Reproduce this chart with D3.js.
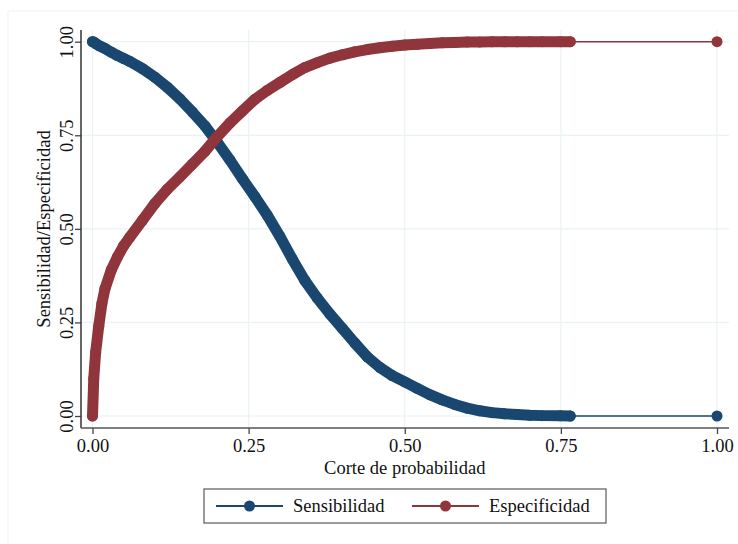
<!DOCTYPE html>
<html>
<head>
<meta charset="utf-8">
<script src="https://cdn.jsdelivr.net/npm/d3@7"></script>
<style>
  body { margin: 0; background: #fff; }
  svg text { font-family: "Liberation Serif", "Times New Roman", serif; fill: #111; }
</style>
</head>
<body>
<svg id="chart" width="738" height="544"></svg>
<script>
// ---- Data ----
const cutoffs = [0, 0.002, 0.005, 0.01, 0.015, 0.02, 0.03, 0.04, 0.05, 0.06, 0.08,
  0.10, 0.12, 0.14, 0.16, 0.18, 0.20, 0.22, 0.24, 0.26, 0.28, 0.30, 0.32, 0.34,
  0.36, 0.38, 0.40, 0.42, 0.44, 0.46, 0.48, 0.50, 0.52, 0.54, 0.56, 0.58, 0.60,
  0.62, 0.64, 0.66, 0.68, 0.70, 0.72, 0.749, 0.765, 1.0];

const sensibilidad = [1.0, 0.999, 0.995, 0.99, 0.986, 0.982, 0.972, 0.963, 0.955, 0.947, 0.928,
  0.905, 0.878, 0.847, 0.812, 0.775, 0.731, 0.684, 0.634, 0.586, 0.536, 0.480, 0.419, 0.362,
  0.315, 0.273, 0.234, 0.195, 0.158, 0.130, 0.108, 0.091, 0.074, 0.057, 0.043, 0.031, 0.021,
  0.014, 0.009, 0.006, 0.004, 0.002, 0.001, 0.0005, 0, 0];

const especificidad = [0, 0.10, 0.17, 0.24, 0.30, 0.34, 0.39, 0.425, 0.455, 0.478, 0.523,
  0.568, 0.606, 0.639, 0.673, 0.707, 0.747, 0.783, 0.815, 0.846, 0.870, 0.891, 0.912, 0.931,
  0.944, 0.956, 0.965, 0.973, 0.979, 0.984, 0.988, 0.991, 0.993, 0.995, 0.997, 0.998, 0.999,
  0.9995, 0.9997, 0.9998, 0.9999, 1, 1, 1, 1, 1];

const xTicks = [0, 0.25, 0.5, 0.75, 1];
const yTicks = [0, 0.25, 0.5, 0.75, 1];
const seriesNames = ["Sensibilidad", "Especificidad"];
const seriesColors = ["#1a476f", "#90353b"];

// ---- Layout ----
const svg = d3.select("#chart");
const x = d3.scaleLinear().domain([0, 1]).range([92.5, 717]);
const y = d3.scaleLinear().domain([0, 1]).range([416, 41.7]);
const plotLeft = 81, plotRight = 729, plotTop = 30, plotBottom = 428;
const fontSize = "18.5px";

// outer frame
svg.append("rect").attr("x", 8).attr("y", 11).attr("width", 740).attr("height", 540)
  .attr("fill", "#fff").attr("stroke", "#edf1f3");

// grid lines
svg.append("g").selectAll("line").data(yTicks).join("line")
  .attr("x1", plotLeft).attr("x2", plotRight)
  .attr("y1", d => y(d)).attr("y2", d => y(d))
  .attr("stroke", "#eaf2f3").attr("stroke-width", 1.2);
svg.append("g").selectAll("line").data(xTicks).join("line")
  .attr("y1", plotTop).attr("y2", plotBottom)
  .attr("x1", d => x(d)).attr("x2", d => x(d))
  .attr("stroke", "#eaf2f3").attr("stroke-width", 1.2);

// axes
const xAxis = svg.append("g").attr("transform", `translate(0,${plotBottom})`)
  .call(d3.axisBottom(x).tickValues(xTicks).tickFormat(d3.format(".2f")).tickSize(6).tickPadding(5));
const yAxis = svg.append("g").attr("transform", `translate(${plotLeft},0)`)
  .call(d3.axisLeft(y).tickValues(yTicks).tickFormat(d3.format(".2f")).tickSize(6).tickPadding(3));

[xAxis, yAxis].forEach(a => {
  a.select(".domain").remove();
  a.selectAll("line").attr("stroke", "#444").attr("stroke-width", 1.3);
  a.selectAll("text").style("font-size", fontSize).attr("fill", "#111");
});
yAxis.selectAll(".tick text")
  .attr("transform", "rotate(-90)")
  .attr("x", 0).attr("y", -14)
  .attr("text-anchor", "middle");

svg.append("line").attr("x1", plotLeft).attr("x2", plotLeft)
  .attr("y1", plotTop).attr("y2", plotBottom).attr("stroke", "#333").attr("stroke-width", 1.5);
svg.append("line").attr("x1", plotLeft).attr("x2", plotRight)
  .attr("y1", plotBottom).attr("y2", plotBottom).attr("stroke", "#555").attr("stroke-width", 1.5);

// axis titles
svg.append("text").attr("x", x(0.5)).attr("y", 474).attr("text-anchor", "middle")
  .style("font-size", fontSize).text("Corte de probabilidad");
svg.append("text").attr("transform", `translate(50,229) rotate(-90)`).attr("text-anchor", "middle")
  .style("font-size", fontSize).text("Sensibilidad/Especificidad");

// ---- Series ----
const series = [sensibilidad, especificidad].map((vals, i) => ({
  name: seriesNames[i],
  color: seriesColors[i],
  points: cutoffs.map((c, j) => ({ c, v: vals[j] }))
}));

const line = d3.line().x(d => x(d.c)).y(d => y(d.v));
const r = 5.5;

series.forEach(s => {
  const g = svg.append("g");
  // dense marker cloud below the last real cutoff
  g.append("path").attr("d", line(s.points.filter(p => p.c < 0.77)))
    .attr("fill", "none").attr("stroke", s.color).attr("stroke-width", r * 2)
    .attr("stroke-linecap", "round").attr("stroke-linejoin", "round");
  g.append("path").attr("d", line(s.points))
    .attr("fill", "none").attr("stroke", s.color).attr("stroke-width", 1.6);
  g.selectAll("circle").data(s.points).join("circle")
    .attr("cx", d => x(d.c)).attr("cy", d => y(d.v)).attr("r", r)
    .attr("fill", s.color);
});

// ---- Legend ----
const legend = svg.append("g");
legend.append("rect").attr("x", 204).attr("y", 489).attr("width", 402).attr("height", 34)
  .attr("fill", "#fff").attr("stroke", "#666").attr("stroke-width", 1.3);
const legendX = [216, 412];
series.forEach((s, i) => {
  const lx = legendX[i];
  legend.append("line").attr("x1", lx).attr("x2", lx + 67).attr("y1", 506).attr("y2", 506)
    .attr("stroke", s.color).attr("stroke-width", 2);
  legend.append("circle").attr("cx", lx + 33.5).attr("cy", 506).attr("r", 5.5).attr("fill", s.color);
  legend.append("text").attr("x", lx + 77).attr("y", 512).style("font-size", fontSize).text(s.name);
});
</script>
</body>
</html>
